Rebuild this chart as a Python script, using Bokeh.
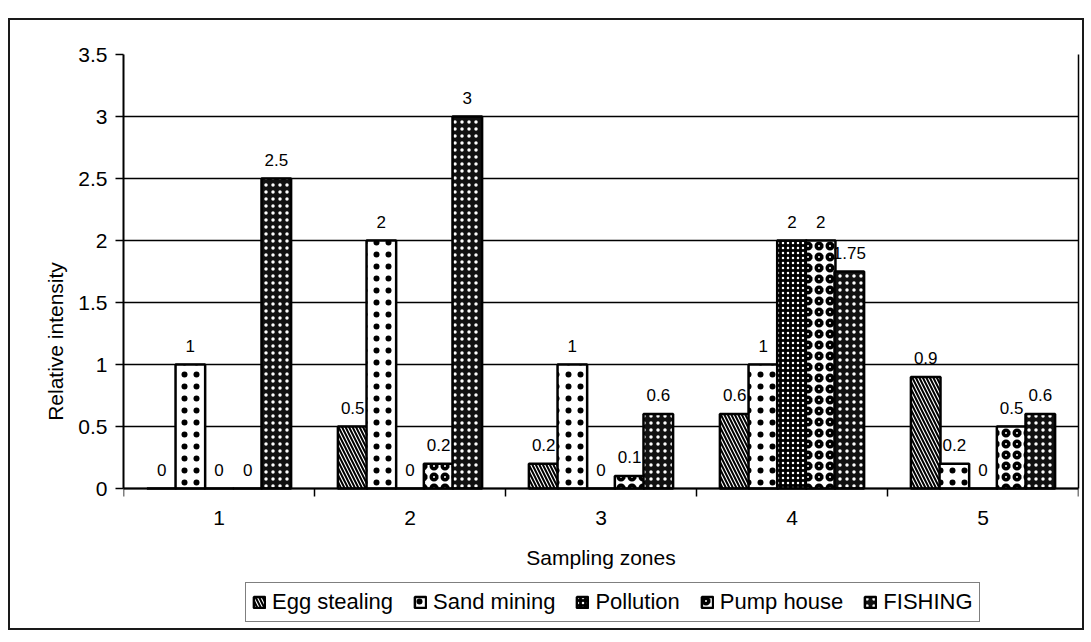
import math
from bokeh.plotting import figure
from bokeh.models import (ColumnDataSource, FixedTicker, Legend, LegendItem,
                          LabelSet, Range1d, LinearAxis, Span)
from bokeh.core.properties import value
from bokeh.transform import dodge
from bokeh.embed import file_html
from bokeh.resources import INLINE

# ---------------- data ----------------
zones = [1, 2, 3, 4, 5]
zone_labels = ["1", "2", "3", "4", "5"]
series = ["Egg stealing", "Sand mining", "Pollution", "Pump house", "FISHING"]
egg_stealing = [0, 0.5, 0.2, 0.6, 0.9]
sand_mining = [1, 2, 1, 1, 0.2]
pollution = [0, 0, 0, 2, 0]
pump_house = [0, 0.2, 0.1, 2, 0.5]
fishing = [2.5, 3, 0.6, 1.75, 0.6]
y_ticks = [0, 0.5, 1, 1.5, 2, 2.5, 3, 3.5]
x_boundaries = [0.5, 1.5, 2.5, 3.5, 4.5, 5.5]
x_title = "Sampling zones"
y_title = "Relative intensity"

# ---------------- layout ----------------
values = [egg_stealing, sand_mining, pollution, pump_house, fishing]
offsets = [-0.30, -0.15, 0.0, 0.15, 0.30]
bar_w = 0.155

FONT = "Liberation Sans"
W, H = 1076, 612
MB_LEFT, MB_RIGHT, MB_TOP, MB_BOTTOM = 113, 8, 34, 4
PX_ZERO_FROM_TOP = 434          # pixel distance from y=3.5 to y=0
frame_h = H - MB_TOP - MB_BOTTOM
px_per_unit = PX_ZERO_FROM_TOP / 3.5
y_start = 3.5 - frame_h / px_per_unit

styles = [
    dict(fill_color="white", hatch_pattern="left_diagonal_line", hatch_color="black", hatch_scale=7, hatch_weight=2),
    dict(fill_color="white", hatch_pattern="dot", hatch_color="black", hatch_scale=12, hatch_weight=1.5),
    dict(fill_color="black", hatch_pattern="dot", hatch_color="white", hatch_scale=5, hatch_weight=1.6),
    dict(fill_color="white", hatch_pattern="ring", hatch_color="black", hatch_scale=11, hatch_weight=3.5),
    dict(fill_color="#111111", hatch_pattern="dot", hatch_color="white", hatch_scale=7, hatch_weight=1.6),
]

p = figure(width=W, height=H, x_range=Range1d(0.5, 5.5), y_range=Range1d(y_start, 3.5),
           output_backend="svg", toolbar_location=None,
           min_border_left=MB_LEFT, min_border_right=MB_RIGHT,
           min_border_top=MB_TOP, min_border_bottom=MB_BOTTOM)
p.styles = {"border": "2px solid #1a1a1a", "margin-top": "18px", "margin-left": "8px"}
p.outline_line_color = None
p.background_fill_color = "white"
p.xaxis.visible = False

# y axis
p.yaxis.ticker = FixedTicker(ticks=y_ticks)
p.yaxis.bounds = (0, 3.5)
p.yaxis.axis_label = y_title
p.yaxis.axis_label_text_font = FONT
p.yaxis.axis_label_text_font_style = "normal"
p.yaxis.axis_label_text_font_size = "21px"
p.yaxis.axis_label_text_color = "black"
p.yaxis.axis_label_standoff = 8
p.yaxis.major_label_text_font = FONT
p.yaxis.major_label_text_font_size = "21px"
p.yaxis.major_label_text_color = "black"
p.yaxis.major_tick_out = 8
p.yaxis.major_tick_in = 0
p.yaxis.minor_tick_line_color = None
p.yaxis.major_label_standoff = 8
p.yaxis.axis_line_width = 2
p.yaxis.axis_line_color = "black"
p.yaxis.major_tick_line_width = 1.5
p.yaxis.major_tick_line_color = "black"

# right edge of plot area
right = LinearAxis(ticker=FixedTicker(ticks=[]), bounds=(0, 3.5), axis_line_width=1.5,
                   axis_line_color="black", major_tick_out=0, major_tick_in=0,
                   minor_tick_out=0, minor_tick_in=0, major_label_standoff=0)
p.add_layout(right, "right")

# grid
p.xgrid.grid_line_color = None
p.ygrid.ticker = FixedTicker(ticks=y_ticks)
p.ygrid.grid_line_color = "black"
p.ygrid.grid_line_width = 1.5

# x axis (drawn inside the frame at y = 0)
p.add_layout(Span(location=0, dimension="width", line_color="black", line_width=2))
p.ray(x=x_boundaries, y=[0] * len(x_boundaries), length=8, length_units="screen",
      angle=-math.pi / 2, line_color="black", line_width=1.5)
p.text(x=zones, y=[0] * len(zones), text=zone_labels, y_offset=29,
       text_align="center", text_baseline="middle", text_font=value(FONT),
       text_font_size="21px", text_color="black")
p.text(x=[3], y=[0], text=[x_title], y_offset=69,
       text_align="center", text_baseline="middle", text_font=value(FONT),
       text_font_size="21px", text_color="black")

items = []
for name, vals, off, st in zip(series, values, offsets, styles):
    src = ColumnDataSource(dict(x=zones, y=vals, lab=[f"{v:g}" for v in vals]))
    r = p.vbar(x=dodge("x", off, range=p.x_range), top="y", width=bar_w, source=src,
               line_color="black", line_width=2.5, **st)
    items.append(LegendItem(label=name, renderers=[r]))
    p.add_layout(LabelSet(x=dodge("x", off, range=p.x_range), y="y", text="lab", source=src,
                          text_align="center", text_baseline="middle", y_offset=19,
                          text_font=value(FONT), text_font_size="17px", text_color="black"))

legend = Legend(items=items, orientation="horizontal", location=(122, 6),
                label_text_font=FONT, label_text_font_size="22px", label_text_color="black",
                glyph_width=14, glyph_height=14, label_standoff=6, spacing=20,
                padding=6, margin=0, border_line_color="black", border_line_width=1.5,
                background_fill_color="white", background_fill_alpha=1)
p.add_layout(legend, "center")

open("out.html", "w").write(file_html(p, INLINE))
